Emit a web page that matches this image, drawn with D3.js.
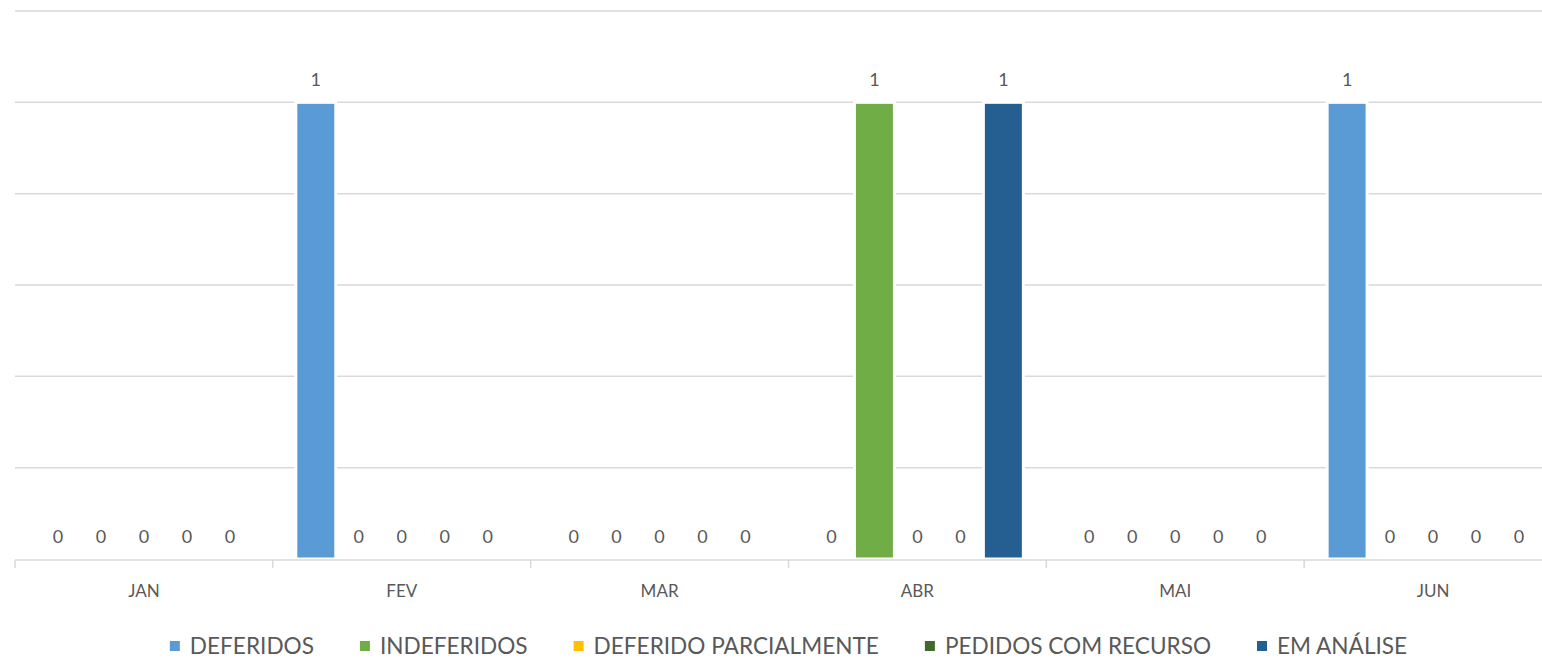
<!DOCTYPE html>
<html>
<head>
<meta charset="utf-8">
<script src="https://cdn.jsdelivr.net/npm/d3@7"></script>
<style>
  body { margin: 0; background: #fff; }
  svg text { font-family: Lato, "Open Sans", sans-serif; fill: #595959; }
</style>
</head>
<body>
<div id="chart"></div>
<script>
var months = ['JAN', 'FEV', 'MAR', 'ABR', 'MAI', 'JUN'];
var seriesNames = ['DEFERIDOS', 'INDEFERIDOS', 'DEFERIDO PARCIALMENTE', 'PEDIDOS COM RECURSO', 'EM ANÁLISE'];
var deferidos   = [0, 1, 0, 0, 0, 1];
var indeferidos = [0, 0, 0, 1, 0, 0];
var parcial     = [0, 0, 0, 0, 0, 0];
var recurso     = [0, 0, 0, 0, 0, 0];
var emAnalise   = [0, 0, 0, 1, 0, 0];
var yTicks = [0, 0.2, 0.4, 0.6, 0.8, 1, 1.2];

var colors = ['#5B9BD5', '#70AD47', '#FFC000', '#43682B', '#255E91'];
var seriesValues = [deferidos, indeferidos, parcial, recurso, emAnalise];

var width = 1542, height = 658;
var margin = {top: 11, right: -20, bottom: 99, left: 15};
var innerW = width - margin.left - margin.right,
    innerH = height - margin.top - margin.bottom;

var svg = d3.select('#chart').append('svg')
    .attr('width', width)
    .attr('height', height);

var g = svg.append('g')
    .attr('transform', 'translate(' + margin.left + ',' + margin.top + ')');

var x0 = d3.scaleBand().domain(months).range([0, innerW]).paddingInner(0).paddingOuter(0);
var x1 = d3.scaleBand().domain(d3.range(seriesNames.length))
    .range([x0.bandwidth() * 0.0833, x0.bandwidth() * 0.9167]).paddingInner(0.07).paddingOuter(0.035);
var y = d3.scaleLinear().domain([0, 1.2]).range([innerH, 0]);

// gridlines
g.selectAll('line.grid').data(yTicks.slice(1)).enter().append('line')
    .attr('class', 'grid')
    .attr('x1', 0).attr('x2', innerW)
    .attr('y1', function(d) { return y(d); })
    .attr('y2', function(d) { return y(d); })
    .attr('stroke', '#d9d9d9').attr('stroke-width', 1.5);

// one row per month
var rows = months.map(function(m, i) {
  return seriesValues.map(function(s, j) { return {month: m, idx: j, value: s[i]}; });
});

var groups = g.selectAll('g.month').data(rows).enter().append('g')
    .attr('class', 'month')
    .attr('transform', function(d, i) { return 'translate(' + x0(months[i]) + ',0)'; });

groups.selectAll('rect').data(function(d) { return d; }).enter().append('rect')
    .attr('x', function(d) { return x1(d.idx); })
    .attr('width', x1.bandwidth())
    .attr('y', function(d) { return y(d.value); })
    .attr('height', function(d) { return innerH - y(d.value); })
    .attr('fill', function(d) { return colors[d.idx]; })
    .attr('stroke', '#fff').attr('stroke-width', 3)
    .style('display', function(d) { return d.value > 0 ? null : 'none'; });

groups.selectAll('text').data(function(d) { return d; }).enter().append('text')
    .attr('x', function(d) { return x1(d.idx) + x1.bandwidth() / 2; })
    .attr('y', function(d) { return y(d.value) - 16; })
    .attr('text-anchor', 'middle')
    .style('font-size', '18px')
    .text(function(d) { return d.value; });

// x axis
var axis = g.append('g').attr('transform', 'translate(0,' + (innerH + 1) + ')');
axis.append('line').attr('x1', 0).attr('x2', innerW).attr('stroke', '#d9d9d9').attr('stroke-width', 1.5);
axis.selectAll('line.tick').data(months).enter().append('line')
    .attr('class', 'tick')
    .attr('x1', function(d) { return x0(d); }).attr('x2', function(d) { return x0(d); })
    .attr('y1', 0).attr('y2', 8)
    .attr('stroke', '#d9d9d9').attr('stroke-width', 1.5);
axis.selectAll('text').data(months).enter().append('text')
    .attr('x', function(d) { return x0(d) + x0.bandwidth() / 2; })
    .attr('y', 37)
    .attr('text-anchor', 'middle')
    .style('font-size', '17px')
    .text(function(d) { return d; });

// legend, centred under the plot area
var legend = svg.append('g');
var items = legend.selectAll('g').data(seriesNames).enter().append('g');
items.append('rect').attr('width', 10).attr('height', 10).attr('y', -5)
    .attr('fill', function(d, i) { return colors[i]; });
items.append('text').attr('x', 20).attr('y', 8)
    .style('font-size', '22.6px')
    .text(function(d) { return d; });
var pos = 0, gap = 46, offsets = [];
items.each(function() {
  offsets.push(pos);
  pos += this.getBBox().width + gap;
});
pos -= gap;
var start = margin.left + innerW / 2 - pos / 2;
items.attr('transform', function(d, i) { return 'translate(' + (start + offsets[i]) + ',646)'; });
</script>
</body>
</html>
